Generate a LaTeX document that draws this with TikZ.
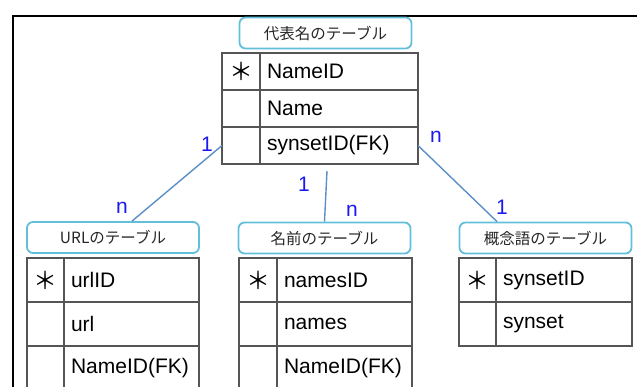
\documentclass[tikz,border=0pt]{standalone}
\usepackage{fontspec}
\setsansfont{Liberation Sans}
\newfontfamily\jpfont{Noto Sans CJK JP}
\usetikzlibrary{positioning}
\definecolor{boxcyan}{HTML}{62BFD9}
\definecolor{linkblue}{HTML}{5B8FC8}
\definecolor{cardblue}{HTML}{1A1AF0}
\definecolor{gridgray}{HTML}{555555}

\begin{document}
\begin{tikzpicture}[x=1pt,y=-1pt,line width=1.2pt,node distance=0pt,
                    font=\sffamily\fontsize{21}{24}\selectfont]
  \tikzstyle{title}=[rectangle,rounded corners=6pt,draw=boxcyan,line width=1.8pt,
                     minimum width=172pt,minimum height=31pt,text=black!85,
                     font=\jpfont\fontsize{15.5}{18}\selectfont]
  \tikzstyle{key}=[rectangle,draw=gridgray,inner sep=0pt,outer sep=0pt,
                   minimum width=38pt,font=\jpfont\fontsize{24}{26}\selectfont]
  \tikzstyle{field}=[rectangle,draw=gridgray,inner sep=0pt,inner xsep=7pt,
                     outer sep=0pt,align=left]
  \tikzstyle{link}=[draw=linkblue,line width=1.4pt]
  \tikzstyle{card}=[text=cardblue,font=\sffamily\fontsize{21}{23}\selectfont]

  \useasboundingbox (0,0) rectangle (637,387);
  \clip (0,0) rectangle (637,387);

  \draw (13,387) -- (13,16) -- (637,16);

  % table titles
  \node[title] (t) at (325.5,33)  {代表名のテーブル};
  \node[title] (u) at (113,237.5) {URLのテーブル};
  \node[title] (n) at (324.5,238) {名前のテーブル};
  \node[title] (s) at (545.5,238) {概念語のテーブル};

  \begin{scope}[minimum height=37pt]
  \node[key,anchor=north west] (t1k) at (222,53) {＊};
  \node[field,text width=144pt] (t1f) [right=of t1k] {NameID};
  \node[key] (t2k) [below=of t1k] {};
  \node[field,text width=144pt] (t2f) [right=of t2k] {Name};
  \node[key] (t3k) [below=of t2k] {};
  \node[field,text width=144pt] (t3f) [right=of t3k] {synsetID(FK)};
  \end{scope}

  \begin{scope}[minimum height=44pt]
  \node[key,minimum width=37pt,anchor=north west] (u1k) at (27,258) {＊};
  \node[field,text width=121pt] (u1f) [right=of u1k] {urlID};
  \node[key,minimum width=37pt] (u2k) [below=of u1k] {};
  \node[field,text width=121pt] (u2f) [right=of u2k] {url};
  \node[key,minimum width=37pt] (u3k) [below=of u2k] {};
  \node[field,text width=121pt] (u3f) [right=of u3k] {NameID(FK)};

  \node[key,anchor=north west] (n1k) at (239,258) {＊};
  \node[field,text width=121pt] (n1f) [right=of n1k] {namesID};
  \node[key] (n2k) [below=of n1k] {};
  \node[field,text width=121pt] (n2f) [right=of n2k] {names};
  \node[key] (n3k) [below=of n2k] {};
  \node[field,text width=121pt] (n3f) [right=of n3k] {NameID(FK)};

  \node[key,minimum width=37pt,anchor=north west] (s1k) at (459,258) {＊};
  \node[field,text width=122pt] (s1f) [right=of s1k] {synsetID};
  \node[key,minimum width=37pt] (s2k) [below=of s1k] {};
  \node[field,text width=122pt] (s2f) [right=of s2k] {synset};
  \end{scope}

  \path
(t3k.west) edge [link] node[card,pos=0,xshift=-15pt,yshift=1pt] {1}
                       node[card,pos=1,xshift=-10pt,yshift=13.5pt] {n} ([xshift=19pt]u.north)
([xshift=-12pt,yshift=-7pt]t3f.south) edge [link]
                       node[card,pos=0,xshift=-23pt,yshift=-13pt] {1}
                       node[card,pos=1,xshift=27.5pt,yshift=10.5pt] {n} (n.north)
(t3f.east) edge [link] node[card,pos=0,xshift=18pt,yshift=9pt] {n}
                       node[card,pos=1,xshift=5pt,yshift=14.5pt] {1} ([xshift=-48.5pt]s.north)
;

\end{tikzpicture}
\end{document}
